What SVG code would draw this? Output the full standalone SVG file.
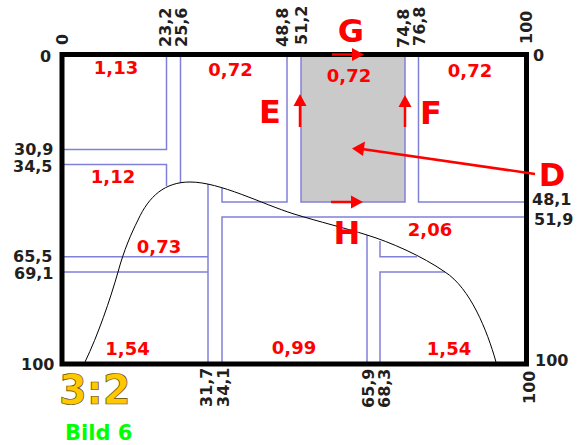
<svg xmlns="http://www.w3.org/2000/svg" width="588" height="445" viewBox="0 0 588 445">
<style>
text{font-family:"DejaVu Sans",Verdana,sans-serif;font-weight:700}
.d{font-size:16px;fill:#231f20}
.v{font-size:16px;fill:#231f20}
.r{font-size:18px;fill:#ff0000;text-anchor:middle}
.L{font-size:32px;fill:#ff0000;text-anchor:middle}
.b{fill:none;stroke:#8080d8;stroke-width:1.5}
.a{fill:none;stroke:#ff0000;stroke-width:2.5}
.h{fill:#ff0000}
</style>
<rect x="0" y="0" width="588" height="445" fill="#ffffff"/>
<rect id="grey-room" x="301" y="57" width="104" height="145" fill="#cacaca"/>
<g id="rooms">
<path class="b" d="M64 149.500H166.500V57M64 164.500H166.500V186M180.500 57V183M287 57V202H222V188M222 363V217H524M208 184V363M64 256.700H208M64 272H208M301 57V202H405V57M418.500 57V202H524M367 363V235M380 363V272H445M380 241V256.700H417"/>
</g>
<g id="curve">
<path fill="none" stroke="#000000" stroke-width="1" d="M85 362C98 335 110 300 118 272C124 250 131 234 138 220C149 196 165 182 190 182C220 182 262 204 294 214C320 222 345 228 367 235C390 242 422 256 445 272C470 288 487 330 496 362"/>
</g>
<rect id="frame" x="62" y="54.500" width="464.500" height="309.500" fill="none" stroke="#000000" stroke-width="5"/>
<g id="connectors">
<path class="a" d="M332 54.500H354"/><polygon class="h" points="364,54.500 352,48 352,61"/>
<path class="a" d="M331 202H353"/><polygon class="h" points="363,202 351,195.500 351,208.500"/>
<path class="a" d="M300 127V104"/><polygon class="h" points="300,94 293.500,106 306.500,106"/>
<path class="a" d="M405 127V105"/><polygon class="h" points="405,95 398.500,107 411.500,107"/>
<path class="a" d="M535 174L362 149"/><polygon class="h" points="352,148.500 365,141.500 363,156"/>
</g>
<g id="labels">
<text class="L" x="270" y="123">E</text>
<text class="L" x="431" y="124">F</text>
<text class="L" x="351" y="42">G</text>
<text class="L" x="347" y="244">H</text>
<text class="L" x="552" y="186">D</text>
<text class="r" x="116" y="74">1,13</text>
<text class="r" x="230.500" y="76">0,72</text>
<text class="r" x="349" y="82">0,72</text>
<text class="r" x="470" y="76.500">0,72</text>
<text class="r" x="113" y="183">1,12</text>
<text class="r" x="159" y="252.500">0,73</text>
<text class="r" x="430" y="236">2,06</text>
<text class="r" x="127.500" y="355">1,54</text>
<text class="r" x="294" y="354">0,99</text>
<text class="r" x="449" y="355">1,54</text>
</g>
<g id="axis-left">
<text class="d" x="40" y="62">0</text>
<text class="d" x="14" y="155">30,9</text>
<text class="d" x="13" y="172">34,5</text>
<text class="d" x="13" y="262">65,5</text>
<text class="d" x="14" y="278.500">69,1</text>
<text class="d" x="21" y="370">100</text>
</g>
<g id="axis-right">
<text class="d" x="533" y="61">0</text>
<text class="d" x="532" y="205">48,1</text>
<text class="d" x="534" y="225">51,9</text>
<text class="d" x="535" y="366">100</text>
</g>
<g id="axis-top">
<text class="v" transform="translate(68 45) rotate(-90)">0</text>
<text class="v" transform="translate(170.500 47) rotate(-90)">23,2</text>
<text class="v" transform="translate(187 47) rotate(-90)">25,6</text>
<text class="v" transform="translate(288 47) rotate(-90)">48,8</text>
<text class="v" transform="translate(306.500 45) rotate(-90)">51,2</text>
<text class="v" transform="translate(409 48) rotate(-90)">74,8</text>
<text class="v" transform="translate(424.500 46) rotate(-90)">76,8</text>
<text class="v" transform="translate(532 44) rotate(-90)">100</text>
</g>
<g id="axis-bottom">
<text class="v" transform="translate(212 407) rotate(-90)">31,7</text>
<text class="v" transform="translate(229 407) rotate(-90)">34,1</text>
<text class="v" transform="translate(374 408) rotate(-90)">65,9</text>
<text class="v" transform="translate(389.500 408) rotate(-90)">68,3</text>
<text class="v" transform="translate(534.500 404) rotate(-90)">100</text>
</g>
<text id="ratio" x="59" y="404" font-size="40" fill="#ffc800" stroke="#5a4a10" stroke-width="0.7">3:2</text>
<text id="title" x="65" y="440" font-size="21" fill="#00ff00">Bild 6</text>
</svg>
